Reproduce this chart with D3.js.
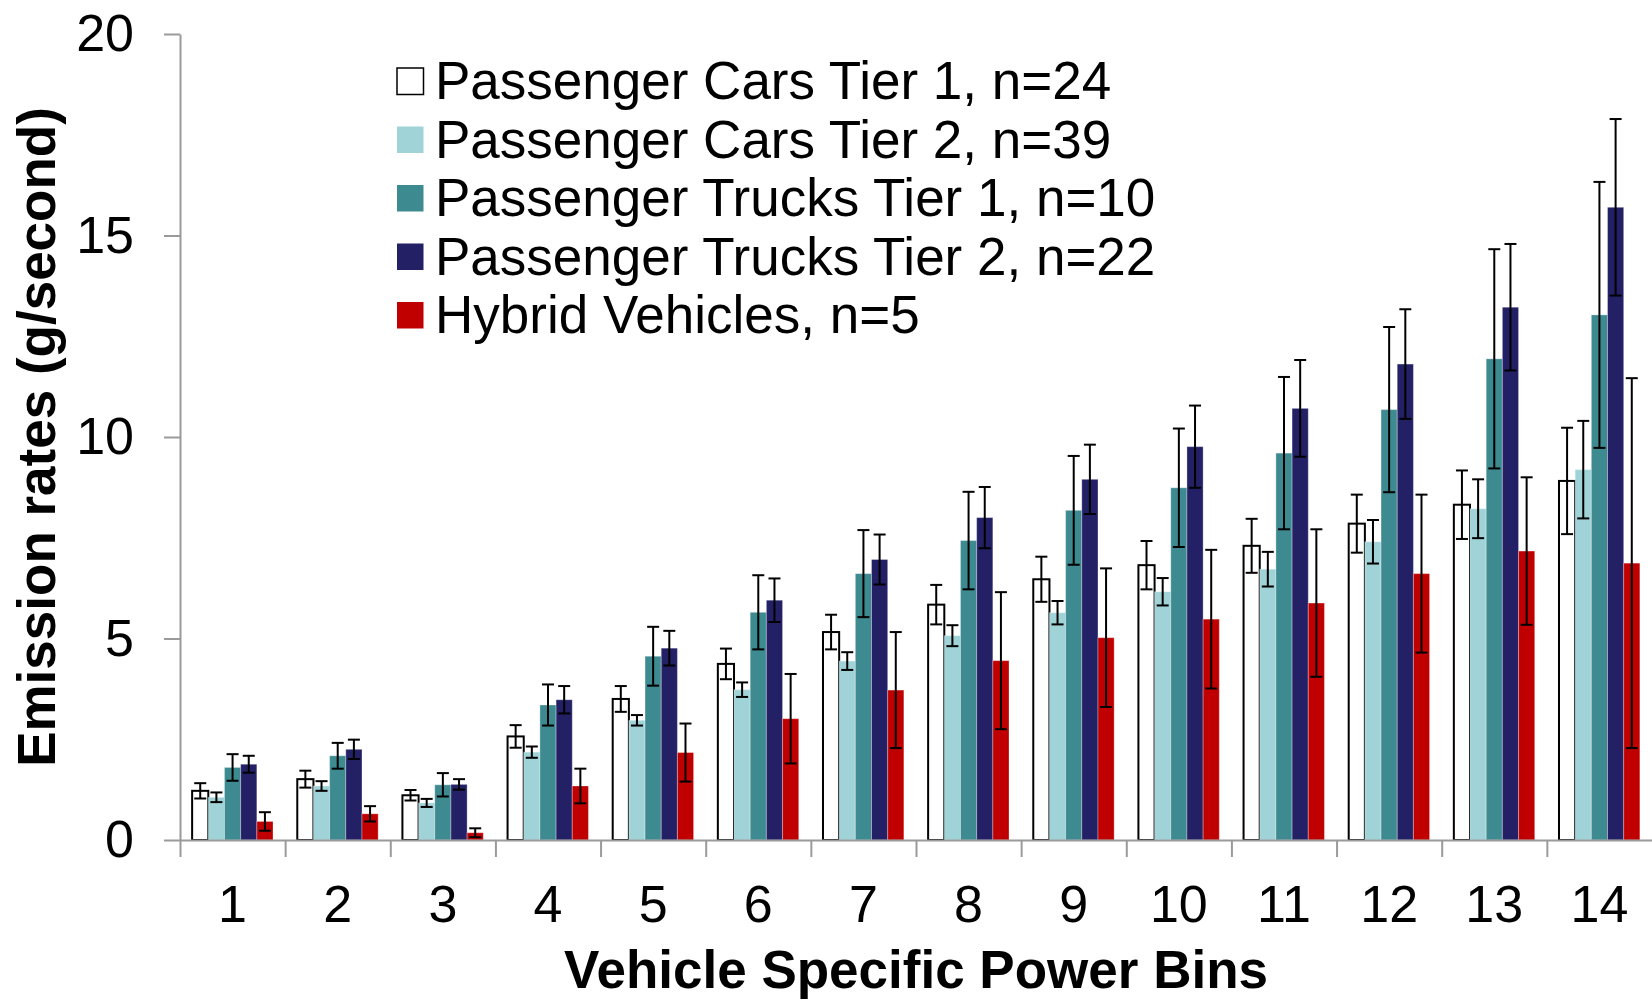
<!DOCTYPE html>
<html>
<head>
<meta charset="utf-8">
<style>
  body { margin: 0; background: #fff; }
  svg { display: block; font-family: "Liberation Sans", Arial, sans-serif; }
  .axis path, .axis line { stroke: #9a9a9a; stroke-width: 2px; }
  .axis text { fill: #000; font-size: 52px; font-family: "Liberation Sans", Arial, sans-serif; }
</style>
</head>
<body>
<svg width="1652" height="1000"></svg>
<script src="https://d3js.org/d3.v7.min.js"></script>
<script>
var bins = ["1", "2", "3", "4", "5", "6", "7", "8", "9", "10", "11", "12", "13", "14"];

var seriesNames = [
  "Passenger Cars Tier 1, n=24",
  "Passenger Cars Tier 2, n=39",
  "Passenger Trucks Tier 1, n=10",
  "Passenger Trucks Tier 2, n=22",
  "Hybrid Vehicles, n=5"
];

var yTicks = [0, 5, 10, 15, 20];

// mean emission rate per bin, and +/- error bar
var carsTier1     = [1.22, 1.51, 1.11, 2.57, 3.50, 4.37, 5.16, 5.84, 6.47, 6.82, 7.30, 7.85, 8.32, 8.91];
var carsTier1Err  = [0.19, 0.21, 0.13, 0.28, 0.32, 0.38, 0.43, 0.49, 0.56, 0.60, 0.67, 0.72, 0.85, 1.32];
var carsTier2     = [1.06, 1.34, 0.92, 2.18, 2.97, 3.73, 4.44, 5.07, 5.64, 6.16, 6.72, 7.40, 8.22, 9.19];
var carsTier2Err  = [0.12, 0.12, 0.10, 0.14, 0.13, 0.18, 0.22, 0.26, 0.29, 0.34, 0.43, 0.54, 0.73, 1.21];
var trucksTier1   = [1.80, 2.09, 1.37, 3.35, 4.56, 5.65, 6.61, 7.43, 8.18, 8.74, 9.60, 10.68, 11.94, 13.03];
var trucksTier1Err = [0.33, 0.32, 0.29, 0.51, 0.73, 0.92, 1.08, 1.21, 1.35, 1.47, 1.89, 2.05, 2.72, 3.30];
var trucksTier2   = [1.88, 2.25, 1.38, 3.48, 4.76, 5.95, 6.96, 8.00, 8.95, 9.76, 10.71, 11.81, 13.22, 15.70];
var trucksTier2Err = [0.21, 0.24, 0.13, 0.34, 0.43, 0.54, 0.62, 0.76, 0.86, 1.02, 1.20, 1.36, 1.57, 2.19];
var hybrids       = [0.46, 0.65, 0.18, 1.34, 2.17, 3.01, 3.72, 4.45, 5.02, 5.48, 5.88, 6.61, 7.17, 6.87];
var hybridsErr    = [0.23, 0.19, 0.11, 0.43, 0.72, 1.11, 1.44, 1.70, 1.72, 1.72, 1.83, 1.96, 1.83, 4.59];

var seriesValues = [carsTier1, carsTier2, trucksTier1, trucksTier2, hybrids];
var seriesErrors = [carsTier1Err, carsTier2Err, trucksTier1Err, trucksTier2Err, hybridsErr];

var colours = ["#ffffff", "#a0d3d7", "#3d8b91", "#232066", "#c00000"];

var svg = d3.select("svg"),
    margin = {top: 34, right: 0, bottom: 160, left: 180},
    width = +svg.attr("width") - margin.left - margin.right,
    height = +svg.attr("height") - margin.top - margin.bottom;

var x = d3.scaleBand().domain(bins).range([0, width]),
    x1 = d3.scaleBand().domain(d3.range(seriesNames.length)).range([0, x.bandwidth()]).paddingOuter(0.75),
    xEdge = d3.scaleLinear().domain([0, bins.length]).range([0, width]),
    y = d3.scaleLinear().domain([0, 20]).range([height, 0]);

var g = svg.append("g")
    .attr("transform", "translate(" + margin.left + "," + margin.top + ")");

var data = bins.map(function(b, i) {
  return seriesValues.map(function(vals, j) {
    return {bin: b, key: j, value: vals[i], err: seriesErrors[j][i]};
  });
});

var group = g.selectAll(".bin")
    .data(data)
  .enter().append("g")
    .attr("class", "bin")
    .attr("transform", function(d, i) { return "translate(" + x(bins[i]) + ",0)"; });

group.selectAll("rect")
    .data(function(d) { return d; })
  .enter().append("rect")
    .attr("x", function(d) { return x1(d.key); })
    .attr("y", function(d) { return y(d.value); })
    .attr("width", x1.bandwidth())
    .attr("height", function(d) { return height - y(d.value); })
    .attr("fill", function(d) { return colours[d.key]; })
    .attr("stroke", function(d) { return d.key === 0 ? "#000" : "rgba(255,255,255,0.3)"; })
    .attr("stroke-width", function(d) { return d.key === 0 ? 2 : 1; });

// error bars
var err = group.selectAll(".err")
    .data(function(d) { return d; })
  .enter().append("g")
    .attr("class", "err")
    .attr("transform", function(d) { return "translate(" + (x1(d.key) + x1.bandwidth() / 2) + ",0)"; })
    .attr("stroke", "#000")
    .attr("stroke-width", 2);

err.append("line")
    .attr("y1", function(d) { return y(d.value + d.err); })
    .attr("y2", function(d) { return y(Math.max(0, d.value - d.err)); });
err.append("line")
    .attr("x1", -6).attr("x2", 6)
    .attr("y1", function(d) { return y(d.value + d.err); })
    .attr("y2", function(d) { return y(d.value + d.err); });
err.append("line")
    .attr("x1", -6).attr("x2", 6)
    .attr("y1", function(d) { return y(Math.max(0, d.value - d.err)); })
    .attr("y2", function(d) { return y(Math.max(0, d.value - d.err)); });

// axes
g.append("g")
    .attr("class", "axis axis--y")
    .call(d3.axisLeft(y).tickValues(yTicks).tickSize(16).tickSizeOuter(0).tickPadding(30));

g.append("g")
    .attr("class", "axis axis--x")
    .attr("transform", "translate(0," + height + ")")
    .call(d3.axisBottom(xEdge).tickValues(d3.range(bins.length)).tickSize(17).tickSizeOuter(0).tickFormat(""));

var xl = g.append("g")
    .attr("class", "axis axis--xlabels")
    .attr("transform", "translate(0," + height + ")")
    .call(d3.axisBottom(x).tickSize(0));
xl.select(".domain").remove();
xl.selectAll("text").attr("y", 82).attr("dy", 0);

// titles
svg.append("text")
    .attr("transform", "rotate(-90)")
    .attr("x", -437)
    .attr("y", 55)
    .attr("text-anchor", "middle")
    .style("font-weight", "bold")
    .style("font-size", "53px")
    .text("Emission rates (g/second)");

svg.append("text")
    .attr("x", margin.left + width / 2)
    .attr("y", 988)
    .attr("text-anchor", "middle")
    .style("font-weight", "bold")
    .style("font-size", "53px")
    .text("Vehicle Specific Power Bins");

// legend
var legend = svg.append("g")
    .attr("transform", "translate(397,68)");

var item = legend.selectAll(".item")
    .data(seriesNames)
  .enter().append("g")
    .attr("class", "item")
    .attr("transform", function(d, i) { return "translate(0," + (i * 58.5) + ")"; });

item.append("rect")
    .attr("width", 26.5)
    .attr("height", 26.5)
    .attr("fill", function(d, i) { return colours[i]; })
    .attr("stroke", function(d, i) { return i === 0 ? "#000" : "none"; })
    .attr("stroke-width", 1.5);

item.append("text")
    .attr("x", 38)
    .attr("y", 31)
    .style("font-size", "53px")
    .text(function(d) { return d; });
</script>
</body>
</html>
